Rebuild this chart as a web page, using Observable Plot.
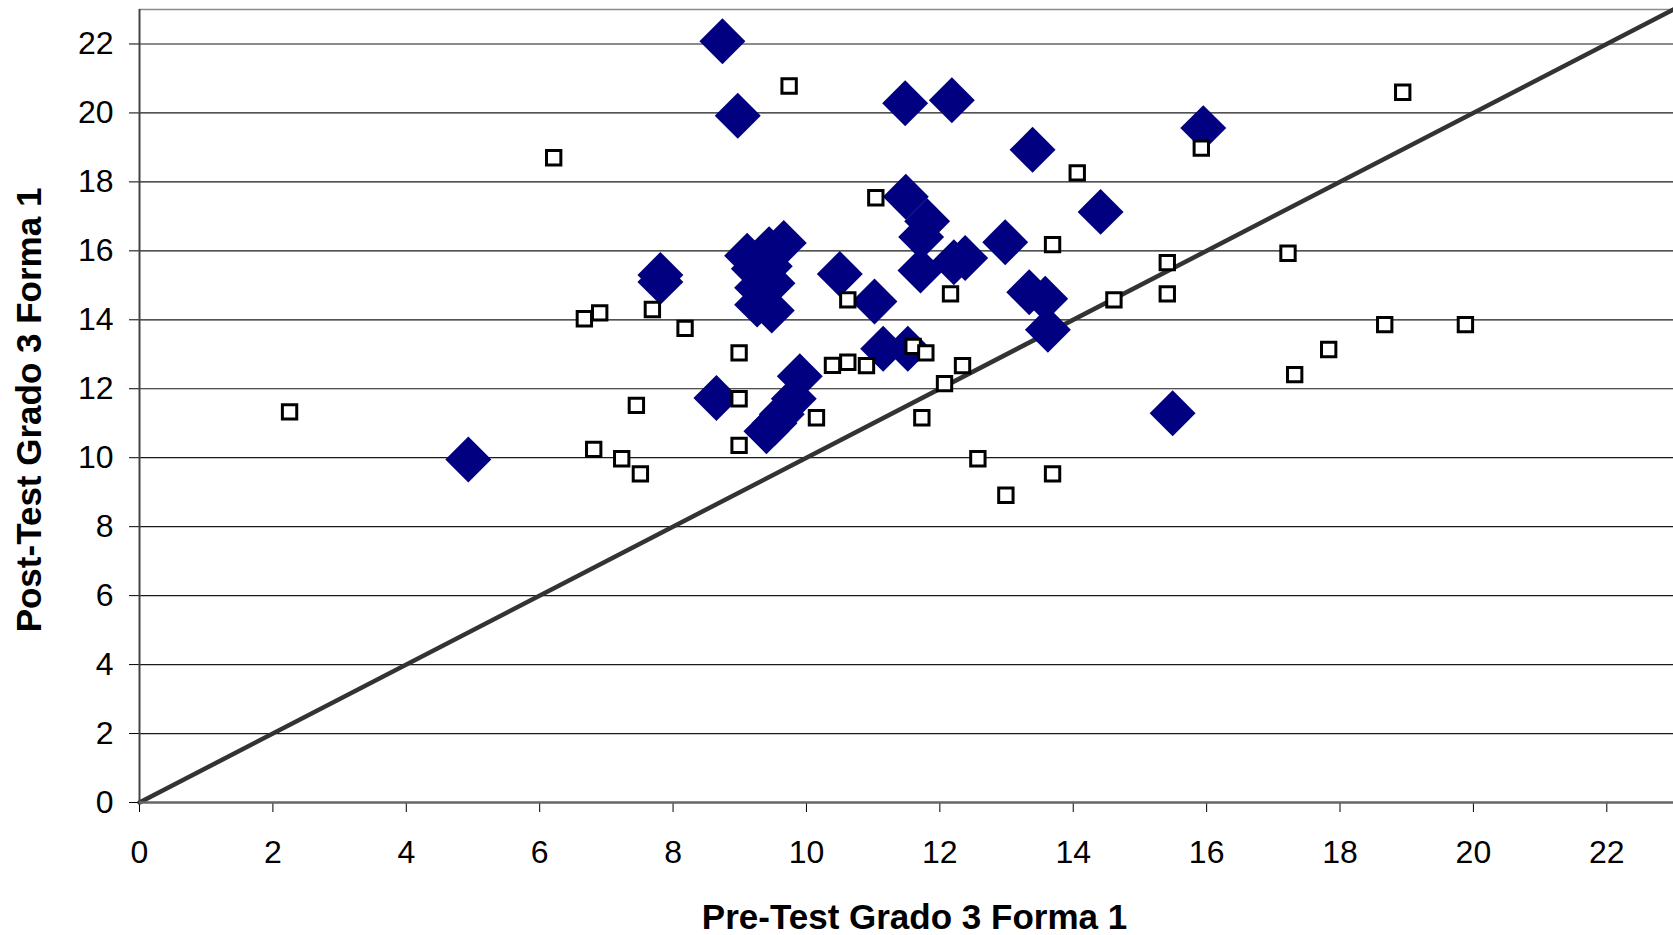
<!DOCTYPE html>
<html>
<head>
<meta charset="utf-8">
<script src="https://cdn.jsdelivr.net/npm/d3@7"></script>
<script src="https://cdn.jsdelivr.net/npm/@observablehq/plot@0.6"></script>
<style>
  html, body { margin: 0; padding: 0; background: #fff; }
  #chart { width: 1673px; height: 935px; }
</style>
</head>
<body>
<div id="chart"></div>
<script>
// Series 1: filled navy diamonds (Pre-Test, Post-Test)
const diamondX = [8.74, 8.97, 11.48, 12.18, 13.39, 15.95, 14.41, 11.49, 11.81, 11.72,
                  11.71, 12.98, 12.21, 12.38, 10.50, 11.02, 7.81, 7.81, 9.66, 9.44,
                  9.11, 9.21, 9.45, 9.26, 9.49, 9.26, 9.48, 13.34, 13.58, 13.62,
                  11.15, 11.52, 9.90, 9.81, 9.63, 9.52, 9.40, 8.65, 15.49, 4.93];
const diamondY = [22.08, 19.92, 20.28, 20.37, 18.93, 19.56, 17.13, 17.57, 16.86, 16.40,
                  15.43, 16.25, 15.67, 15.79, 15.33, 14.53, 15.30, 15.10, 16.23, 16.05,
                  15.86, 15.48, 15.55, 14.93, 15.06, 14.44, 14.27, 14.80, 14.61, 13.71,
                  13.16, 13.16, 12.36, 11.71, 11.26, 11.00, 10.77, 11.73, 11.29, 9.95];

// Series 2: open squares
const squareX = [2.25, 6.21, 6.67, 6.90, 7.69, 8.18, 7.45, 6.81, 7.23, 7.51,
                 9.74, 11.04, 14.06, 13.69, 15.41, 15.41, 14.61, 10.62, 12.16, 8.99,
                 10.39, 10.62, 10.90, 11.60, 11.79, 12.34, 12.07, 8.99, 8.99, 10.15,
                 11.73, 12.57, 12.99, 13.69, 15.92, 18.94, 17.22, 18.67, 19.88, 17.83,
                 17.32];
const squareY = [11.33, 18.70, 14.03, 14.20, 14.30, 13.75, 11.52, 10.24, 9.97, 9.53,
                 20.78, 17.54, 18.26, 16.18, 15.66, 14.75, 14.58, 14.58, 14.75, 13.04,
                 12.68, 12.77, 12.67, 13.23, 13.04, 12.67, 12.15, 11.71, 10.36, 11.16,
                 11.16, 9.97, 8.91, 9.53, 18.98, 20.60, 15.93, 13.86, 13.86, 13.14,
                 12.41];

// Reference line y = x
const lineX = [0, 23];
const lineY = [0, 23];

// Axes
const xTicks = [0, 2, 4, 6, 8, 10, 12, 14, 16, 18, 20, 22];
const yTicks = [0, 2, 4, 6, 8, 10, 12, 14, 16, 18, 20, 22];
const xDomain = [0, 23];
const yDomain = [0, 23];
const xTitle = "Pre-Test Grado 3 Forma 1";
const yTitle = "Post-Test Grado 3 Forma 1";

const diamonds = diamondX.map((x, i) => ({x, y: diamondY[i]}));
const squares = squareX.map((x, i) => ({x, y: squareY[i]}));
const line = lineX.map((x, i) => ({x, y: lineY[i]}));

const chart = Plot.plot({
  width: 1673,
  height: 935,
  marginLeft: 139,
  marginRight: 0,
  marginTop: 9,
  marginBottom: 133,
  style: {
    fontFamily: "'Liberation Sans', Arial, sans-serif",
    fontSize: "32px",
    color: "#000",
    background: "#fff",
    overflow: "visible"
  },
  x: { domain: xDomain, ticks: xTicks, tickSize: 10, tickPadding: 28, label: null, tickFormat: d => String(d) },
  y: { domain: yDomain, ticks: yTicks, tickSize: 10, tickPadding: 16, label: null, tickFormat: d => String(d) },
  marks: [
    Plot.ruleY(yTicks.filter(d => d > 0), { stroke: "#1a1a1a", strokeWidth: 1.2 }),
    Plot.ruleY([yDomain[1]], { stroke: "#8c8c8c", strokeWidth: 1.5 }),
    Plot.line(line, { x: "x", y: "y", stroke: "#333", strokeWidth: 4.5 }),
    Plot.dot(diamonds, { x: "x", y: "y", symbol: "diamond2", r: 20.7, fill: "#000080", stroke: "none" }),
    Plot.dot(squares, { x: "x", y: "y", symbol: "square", r: 8.1, fill: "#fff", stroke: "#000", strokeWidth: 3 }),
    Plot.ruleX([xDomain[0]], { stroke: "#444", strokeWidth: 2 }),
    Plot.ruleY([yDomain[0]], { stroke: "#666", strokeWidth: 2.5 }),
    Plot.text([xTitle], { text: d => d, frameAnchor: "bottom", textAnchor: "middle", lineAnchor: "middle", dx: 8, dy: 115, fontSize: 35, fontWeight: "bold" }),
    Plot.text([yTitle], { text: d => d, frameAnchor: "left", textAnchor: "middle", lineAnchor: "middle", rotate: -90, dx: -110, dy: 4, fontSize: 35, fontWeight: "bold" })
  ]
});
document.getElementById("chart").appendChild(chart);
</script>
</body>
</html>
